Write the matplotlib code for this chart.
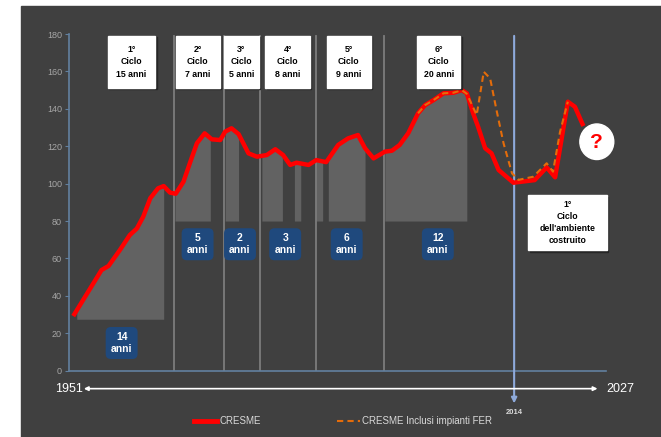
import numpy as np
import matplotlib
matplotlib.use("Agg")
import matplotlib.pyplot as plt
from matplotlib.patches import Rectangle, Ellipse
from matplotlib.lines import Line2D

plt.rcParams['font.family'] = ['Liberation Sans', 'DejaVu Sans']

# CRESME series (year, index)
cresme_year = [1951.6, 1955.6, 1956.6, 1958.2, 1959.6, 1960.6, 1961.5, 1962.5, 1963.6,
               1964.4, 1965.3, 1966.1, 1967.2, 1968.1, 1969.1, 1970.2, 1971.2, 1972.4,
               1973.1, 1974.0, 1975.0, 1976.4, 1977.6, 1979.0, 1980.2, 1981.3, 1982.3,
               1983.2, 1984.9, 1986.0, 1987.4, 1989.1, 1990.5, 1991.9, 1992.9, 1994.1,
               1995.7, 1996.7, 1997.8, 1999.0, 2000.4, 2001.4, 2002.6, 2004.0, 2005.4,
               2006.6, 2007.3, 2008.2, 2008.9, 2009.9, 2010.8, 2011.8, 2013.9, 2016.9,
               2018.6, 2019.8, 2021.6, 2022.6, 2023.8]
cresme_val = [29.2, 53.8, 56.0, 64.5, 72.5, 76.0, 82.3, 92.2, 97.5,
              98.7, 95.2, 94.6, 101.0, 110.9, 121.6, 126.9, 123.7, 123.3,
              127.8, 129.6, 126.5, 116.2, 114.4, 115.3, 118.4, 115.3, 110.0,
              111.2, 110.0, 112.6, 111.5, 120.7, 124.2, 126.0, 118.9, 113.5,
              117.1, 117.6, 120.7, 126.9, 137.6, 142.0, 144.7, 148.3, 148.6,
              150.0, 148.3, 137.6, 130.4, 118.9, 116.2, 107.3, 100.5, 101.9,
              108.7, 103.4, 143.8, 141.1, 130.8]

# CRESME incl. impianti FER
fer_year = [2000.4, 2001.4, 2002.6, 2004.0, 2005.4, 2006.6, 2007.3, 2008.7, 2009.7,
            2010.6, 2011.5, 2012.5, 2013.7, 2014.6, 2016.7, 2018.6, 2019.5, 2020.5, 2021.6]
fer_val = [137.6, 142.0, 144.7, 148.3, 148.6, 150.0, 148.0, 136.7, 159.8,
           156.3, 139.4, 121.6, 105.5, 102.0, 103.7, 110.9, 106.4, 127.8, 143.8]

# expansion phases (start, end, base)
phase_start = [1952.1, 1966.0, 1973.1, 1978.3, 1982.9, 1985.9, 1987.7, 1995.7]
phase_end = [1964.4, 1971.0, 1975.0, 1981.2, 1983.8, 1986.9, 1992.9, 2007.3]
phase_base = [27.5, 80, 80, 80, 80, 80, 80, 80]

# cycle boundaries
cycle_bounds = [1965.93, 1973.0, 1978.0, 1985.9, 1995.6]
cycle_labels = ["1°\nCiclo\n15 anni", "2°\nCiclo\n7 anni", "3°\nCiclo\n5 anni",
                "4°\nCiclo\n8 anni", "5°\nCiclo\n9 anni", "6°\nCiclo\n20 anni"]
cycle_box_x = [(1956.47, 1963.2), (1966.1, 1972.3), (1972.9, 1977.9),
               (1978.8, 1985.1), (1987.5, 1993.7), (2000.3, 2006.4)]
phase_labels = ["14\nanni", "5\nanni", "2\nanni", "3\nanni", "6\nanni", "12\nanni"]
phase_label_x = [1958.45, 1969.2, 1975.2, 1981.6, 1990.3, 2003.2]
phase_label_y = [14.8, 67.6, 67.6, 67.6, 67.6, 67.6]

BG = '#404040'
SPINE = '#62809f'

fig = plt.figure(figsize=(6.61, 4.37), dpi=100)
fig.patches.append(Rectangle((21 / 661, 0), 640 / 661, 431 / 437,
                             transform=fig.transFigure, color=BG, zorder=-10))
ax = fig.add_axes([69 / 661, 1 - 370.7 / 437, 537 / 661, 336.7 / 437])
ax.set_facecolor('none')
ax.set_xlim(1951, 2027)
ax.set_ylim(0, 180)

# shaded phases under the curve
for s, e, b in zip(phase_start, phase_end, phase_base):
    xx = np.linspace(s, e, 80)
    ax.fill_between(xx, b, np.interp(xx, cresme_year, cresme_val),
                    color='#626262', lw=0, zorder=1)

for xb in cycle_bounds:
    ax.plot([xb, xb], [0, 179], color='#7c7c7c', lw=1.3, zorder=2)

ax.plot(cresme_year, cresme_val, color='#ff0000', lw=3.2, zorder=4,
        solid_joinstyle='round', solid_capstyle='butt')
ax.plot(fer_year, fer_val, color='#e46c0a', lw=1.5, ls=(0, (3, 2)), zorder=5)

# 2014 line with arrow
ax.annotate('', xy=(2014, -17.5), xytext=(2014, 179), annotation_clip=False,
            arrowprops=dict(arrowstyle='-|>', color='#8eaadb', lw=1.5,
                            mutation_scale=8, shrinkA=0, shrinkB=0), zorder=3)
ax.text(2014, -20.5, '2014', color='#d9d9d9', fontsize=5.5, ha='center', va='top',
        fontweight='bold', clip_on=False)

# time arrow
ax.annotate('', xy=(1953.1, -9.6), xytext=(2025.8, -9.6), annotation_clip=False,
            arrowprops=dict(arrowstyle='<|-|>', color='white', lw=1.2,
                            mutation_scale=6, shrinkA=0, shrinkB=0))
ax.text(1953.0, -9.6, '1951', color='white', fontsize=9, ha='right', va='center',
        clip_on=False)
ax.text(2027.1, -9.6, '2027', color='white', fontsize=9, ha='left', va='center',
        clip_on=False)

# white cycle boxes
for (x0, x1), lab in zip(cycle_box_x, cycle_labels):
    ax.add_patch(Rectangle((x0 + 0.2, 151.3 - 0.8), x1 - x0, 179.1 - 151.3,
                           color='#262626', zorder=5, clip_on=False))
    ax.add_patch(Rectangle((x0, 151.3), x1 - x0, 179.1 - 151.3,
                           color='white', zorder=6, clip_on=False))
    ax.text((x0 + x1) / 2, 165.2, lab, ha='center', va='center', fontsize=6.3,
            fontweight='bold', color='black', linespacing=1.5, zorder=7)

x0, x1 = 2016.0, 2027.1
ax.add_patch(Rectangle((x0 + 0.2, 64.5 - 0.8), x1 - x0, 93.8 - 64.5,
                       color='#262626', zorder=5, clip_on=False))
ax.add_patch(Rectangle((x0, 64.5), x1 - x0, 93.8 - 64.5,
                       color='white', zorder=6, clip_on=False))
ax.text((x0 + x1) / 2, 79.2, "1°\nCiclo\ndell'ambiente\ncostruito", ha='center',
        va='center', fontsize=6.3, fontweight='bold', color='black',
        linespacing=1.45, zorder=7)

# blue phase-length boxes
for xl, yl, lab in zip(phase_label_x, phase_label_y, phase_labels):
    ax.text(xl, yl, lab, ha='center', va='center', fontsize=7.5, fontweight='bold',
            color='white', linespacing=1.2, zorder=7,
            bbox=dict(boxstyle='round,pad=0.5,rounding_size=0.5',
                      fc='#1f497d', ec='none'))

# question mark
ax.add_patch(Ellipse((2025.7, 122.4), 4.8, 19.0, color='white', zorder=6,
                     clip_on=False))
ax.text(2025.7, 122.0, '?', color='#ff0000', fontsize=15, fontweight='bold',
        ha='center', va='center', zorder=7)

for sp in ['top', 'right']:
    ax.spines[sp].set_visible(False)
for sp in ['left', 'bottom']:
    ax.spines[sp].set_color(SPINE)
    ax.spines[sp].set_linewidth(1.2)
ax.set_xticks([])
ax.set_yticks(np.arange(0, 181, 20))
ax.tick_params(axis='y', colors=SPINE, length=3, width=0.8, pad=2,
               labelsize=6.5, labelcolor='#a6a6a6')

handles = [Line2D([], [], color='#ff0000', lw=3.5),
           Line2D([], [], color='#e46c0a', lw=1.5, ls=(0, (3, 2)))]
fig.legend(handles, ['CRESME', 'CRESME Inclusi impianti FER'], ncol=2,
           loc='center left', bbox_to_anchor=(194 / 661, 1 - 421 / 437),
           frameon=False, fontsize=7, labelcolor='#d9d9d9', handlelength=2.4,
           handletextpad=0.2, columnspacing=7.8, borderpad=0, borderaxespad=0)

fig.savefig('out.png', dpi=100)
